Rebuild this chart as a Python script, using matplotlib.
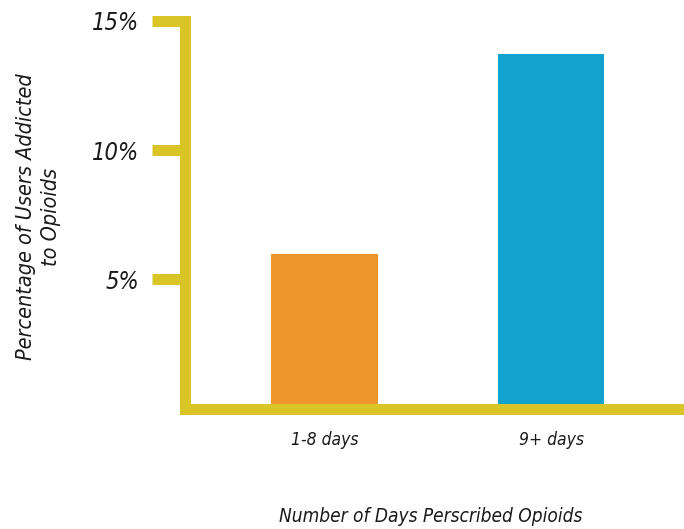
import matplotlib.pyplot as plt
from matplotlib.ticker import FuncFormatter

# Opioid addiction rate by prescription length
categories = ['1-8 days', '9+ days']
addicted_pct = [6.0, 13.7]
bar_colors = ['#EE962B', '#12A2CE']
y_ticks = [5, 10, 15]

axis_yellow = '#D9C526'
font = ['DejaVu Sans']
txt = dict(family=font, style='italic', stretch='condensed', color='#1a1a1a')

fig = plt.figure(figsize=(6.84, 5.29), dpi=100)
ax = fig.add_axes([0.271, 0.227, 0.729, 0.734])

x = range(len(categories))
ax.bar(x, addicted_pct, width=0.472, color=bar_colors, zorder=1)

ax.set_xlim(-0.614, 1.587)
ax.set_ylim(0, 15)

for side in ['top', 'right']:
    ax.spines[side].set_visible(False)
for side in ['left', 'bottom']:
    ax.spines[side].set_color(axis_yellow)
    ax.spines[side].set_linewidth(7.9)
    ax.spines[side].set_capstyle('projecting')
    ax.spines[side].set_zorder(3)

ax.set_yticks(y_ticks)
ax.yaxis.set_major_formatter(FuncFormatter(lambda v, p: f'{v:.0f}%'))
ax.tick_params(axis='y', length=24, width=7.9, color=axis_yellow, pad=9,
               labelsize=17)
ax.set_xticks(list(x))
ax.set_xticklabels(categories)
ax.tick_params(axis='x', length=0, pad=16, labelsize=12.5)

for lab in ax.get_yticklabels() + ax.get_xticklabels():
    lab.set(**txt)

fig.text(0.056, 0.59, 'Percentage of Users Addicted\nto Opioids', rotation=90,
         ha='center', va='center', multialignment='center', fontsize=15.5,
         linespacing=1.35, **txt)
fig.text(0.629, 0.024, 'Number of Days Perscribed Opioids', ha='center',
         va='center', fontsize=13.7, **txt)

fig.savefig('out.png', dpi=100)
